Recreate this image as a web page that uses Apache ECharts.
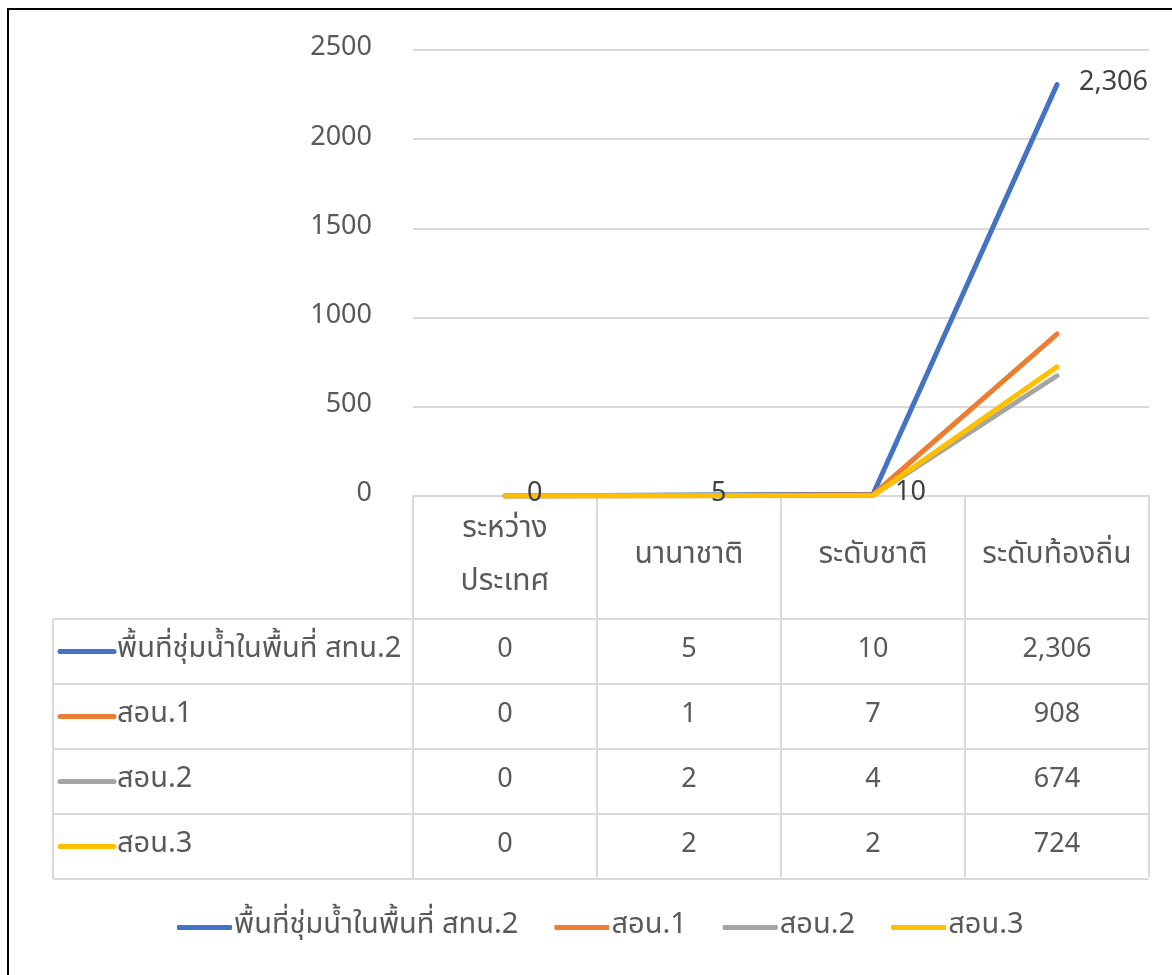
<!DOCTYPE html>
<html>
<head>
<meta charset="utf-8">
<script src="https://cdn.jsdelivr.net/npm/echarts@6/dist/echarts.min.js"></script>
<style>
html,body{margin:0;padding:0;background:#fff;}
#chart{width:1172px;height:975px;}
</style>
</head>
<body>
<div id="chart"></div>
<script>
const categories = ['ระหว่าง\nประเทศ', 'นานาชาติ', 'ระดับชาติ', 'ระดับท้องถิ่น'];
const seriesNames = ['พื้นที่ชุ่มน้ำในพื้นที่ สทน.2', 'สอน.1', 'สอน.2', 'สอน.3'];
const wetlandArea2 = [0, 5, 10, 2306];
const son1 = [0, 1, 7, 908];
const son2 = [0, 2, 4, 674];
const son3 = [0, 2, 2, 724];
const seriesValues = [wetlandArea2, son1, son2, son3];
const colors = ['#4472C4', '#ED7D31', '#A5A5A5', '#FFC000'];
const yTicks = { min: 0, max: 2500, interval: 500 };

const FONT = '"Noto Sans Thai", "Noto Sans", "DejaVu Sans", sans-serif';
const TXT = '#595959';
const LINE = '#D9D9D9';
const NUM_SIZE = 27;
const THAI_SIZE = 30;

const fmt = v => Number(v).toLocaleString('en-US');

const chart = echarts.init(document.getElementById('chart'), null, { renderer: 'canvas' });

const GRID = { left: 413, right: 23, top: 50, bottom: 975 - 496 };
const HEADER_H = 123;
const ROW_H = 65;
const TABLE_LEFT = 53;

const option = {
  animation: false,
  backgroundColor: '#fff',
  textStyle: { fontFamily: FONT },
  grid: GRID,
  xAxis: {
    type: 'category',
    data: categories,
    boundaryGap: true,
    axisLine: { show: true, lineStyle: { color: LINE, width: 2 } },
    axisTick: { show: true, length: HEADER_H + ROW_H * seriesNames.length - 2, lineStyle: { color: LINE, width: 2 } },
    axisLabel: {
      show: true, margin: 61, verticalAlign: 'middle', color: TXT,
      fontSize: THAI_SIZE, lineHeight: 53, fontFamily: FONT, interval: 0
    },
    splitLine: { show: false }
  },
  yAxis: {
    type: 'value',
    min: yTicks.min, max: yTicks.max, interval: yTicks.interval,
    axisLine: { show: false },
    axisTick: { show: false },
    axisLabel: { color: TXT, fontSize: NUM_SIZE, margin: 41, fontFamily: FONT, padding: [0, 0, 6, 0],
      formatter: v => String(v) },
    splitLine: { lineStyle: { color: LINE, width: 2 } }
  },
  series: seriesNames.map((name, i) => ({
    name: name,
    type: 'line',
    data: seriesValues[i],
    showSymbol: true,
    symbol: 'circle',
    symbolSize: 0,
    lineStyle: { color: colors[i], width: 5, cap: 'round', join: 'round' },
    itemStyle: { color: colors[i] },
    emphasis: { disabled: true },
    label: i === 0 ? {
      show: true, position: 'right', distance: 22, color: '#404040',
      fontSize: NUM_SIZE, fontFamily: FONT, formatter: p => fmt(p.value)
    } : { show: false }
  })),
  legend: {
    left: 172,
    top: 908,
    icon: 'roundRect',
    itemWidth: 55,
    itemHeight: 5,
    itemGap: 36,
    textStyle: { color: TXT, fontSize: 29, fontFamily: FONT, padding: [0, 0, 0, -3] },
    data: seriesNames
  }
};

chart.setOption(option);

function buildTable() {
  const axisY = chart.convertToPixel({ yAxisIndex: 0 }, 0);
  const rightX = 1172 - GRID.right;
  const leftX = GRID.left;
  const headerBottom = axisY + HEADER_H;
  const els = [];
  els.push({ type: 'rect', shape: { x: 8, y: 9, width: 1400, height: 1400 },
    style: { fill: 'none', stroke: '#000', lineWidth: 2 }, silent: true, z: 100 });
  for (let r = 0; r <= seriesNames.length; r++) {
    const y = headerBottom + r * ROW_H;
    els.push({ type: 'line', shape: { x1: TABLE_LEFT, y1: y, x2: rightX, y2: y },
      style: { stroke: LINE, lineWidth: 2 }, silent: true });
  }
  els.push({ type: 'line', shape: { x1: TABLE_LEFT, y1: headerBottom, x2: TABLE_LEFT, y2: headerBottom + ROW_H * seriesNames.length },
    style: { stroke: LINE, lineWidth: 2 }, silent: true });
  els.push({ type: 'line', shape: { x1: leftX, y1: headerBottom, x2: leftX, y2: headerBottom + ROW_H * seriesNames.length },
    style: { stroke: LINE, lineWidth: 2 }, silent: true });
  seriesNames.forEach((name, r) => {
    const cy = headerBottom + r * ROW_H + ROW_H / 2;
    els.push({ type: 'line', shape: { x1: TABLE_LEFT + 7, y1: cy, x2: TABLE_LEFT + 61, y2: cy },
      style: { stroke: colors[r], lineWidth: 5, lineCap: 'round' }, silent: true });
    els.push({ type: 'text', x: TABLE_LEFT + 64, y: cy,
      style: { text: name, fill: TXT, font: '29px ' + FONT, textAlign: 'left', textVerticalAlign: 'middle' }, silent: true });
    seriesValues[r].forEach((v, c) => {
      const x = chart.convertToPixel({ xAxisIndex: 0 }, c);
      els.push({ type: 'text', x: x, y: cy,
        style: { text: fmt(v), fill: TXT, font: NUM_SIZE + 'px ' + FONT, textAlign: 'center', textVerticalAlign: 'middle' }, silent: true });
    });
  });
  chart.setOption({ graphic: els });
}
buildTable();
</script>
</body>
</html>
